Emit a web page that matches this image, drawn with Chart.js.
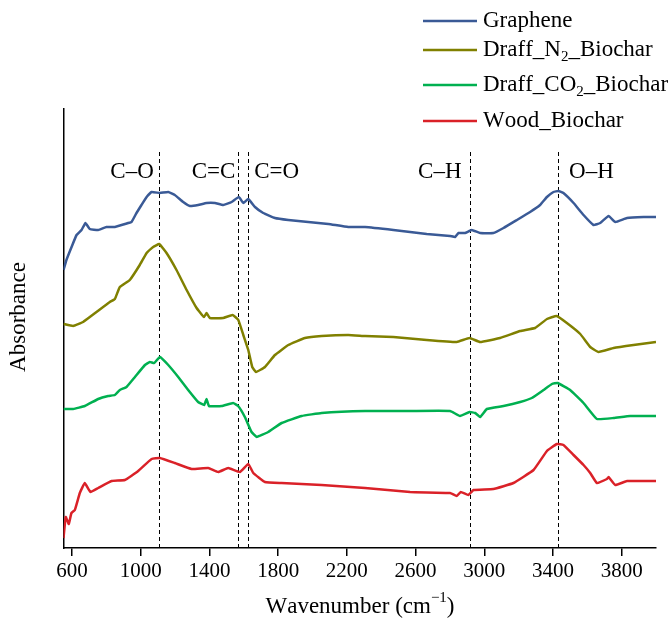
<!DOCTYPE html>
<html>
<head>
<meta charset="utf-8">
<script src="https://cdn.jsdelivr.net/npm/chart.js@4/dist/chart.umd.min.js"></script>
<style>
  html, body { margin: 0; padding: 0; background: #fff; }
</style>
</head>
<body>
<canvas id="ftir" width="670" height="627"></canvas>
<script>
// FTIR spectra, absorbance in arbitrary units (curves are stacked)
const xTicks = [600, 1000, 1400, 1800, 2200, 2600, 3000, 3400, 3800];

const grapheneWn = [550, 567, 597, 626, 655, 678, 703, 752, 800, 849, 907, 946, 975, 1004, 1034, 1063, 1111, 1160, 1198, 1247, 1286, 1334, 1383, 1432, 1480, 1529, 1571, 1597, 1626, 1665, 1713, 1781, 1859, 1975, 2092, 2208, 2306, 2471, 2665, 2801, 2830, 2850, 2888, 2927, 2976, 3053, 3112, 3190, 3267, 3325, 3365, 3403, 3432, 3461, 3520, 3578, 3636, 3675, 3724, 3763, 3831, 3928, 4000];
const grapheneAbs = [2.78, 2.88, 3.01, 3.13, 3.18, 3.25, 3.19, 3.18, 3.21, 3.21, 3.24, 3.26, 3.35, 3.43, 3.51, 3.56, 3.55, 3.56, 3.53, 3.46, 3.42, 3.43, 3.45, 3.45, 3.43, 3.46, 3.51, 3.45, 3.49, 3.41, 3.35, 3.30, 3.28, 3.26, 3.24, 3.21, 3.21, 3.18, 3.14, 3.12, 3.11, 3.15, 3.15, 3.18, 3.15, 3.15, 3.20, 3.28, 3.36, 3.43, 3.51, 3.56, 3.57, 3.55, 3.45, 3.33, 3.23, 3.25, 3.32, 3.26, 3.30, 3.31, 3.31];

const draffN2Wn = [550, 606, 664, 742, 820, 849, 878, 936, 994, 1034, 1072, 1107, 1150, 1208, 1267, 1325, 1368, 1383, 1402, 1480, 1535, 1568, 1597, 1626, 1649, 1671, 1723, 1781, 1859, 1956, 2053, 2208, 2306, 2471, 2665, 2840, 2914, 2976, 3092, 3209, 3296, 3365, 3421, 3481, 3559, 3617, 3665, 3753, 3869, 4000];
const draffN2Abs = [2.24, 2.22, 2.26, 2.36, 2.46, 2.49, 2.61, 2.68, 2.83, 2.95, 3.01, 3.04, 2.95, 2.78, 2.58, 2.40, 2.31, 2.35, 2.30, 2.30, 2.33, 2.28, 2.13, 1.98, 1.81, 1.76, 1.81, 1.93, 2.03, 2.10, 2.12, 2.13, 2.12, 2.11, 2.08, 2.06, 2.10, 2.06, 2.10, 2.17, 2.20, 2.29, 2.32, 2.25, 2.14, 2.01, 1.96, 2.00, 2.03, 2.06];

const draffCO2Wn = [550, 606, 674, 752, 810, 849, 878, 917, 966, 1024, 1053, 1078, 1111, 1160, 1218, 1276, 1334, 1369, 1383, 1397, 1471, 1538, 1567, 1606, 1645, 1675, 1742, 1820, 1937, 2053, 2306, 2568, 2801, 2859, 2914, 2947, 2976, 3015, 3112, 3209, 3277, 3345, 3394, 3427, 3500, 3578, 3656, 3753, 3850, 4000];
const draffCO2Abs = [1.39, 1.39, 1.42, 1.49, 1.52, 1.53, 1.58, 1.61, 1.71, 1.83, 1.86, 1.85, 1.91, 1.83, 1.71, 1.58, 1.46, 1.43, 1.49, 1.42, 1.42, 1.45, 1.42, 1.31, 1.16, 1.11, 1.16, 1.25, 1.32, 1.35, 1.37, 1.37, 1.37, 1.32, 1.36, 1.35, 1.31, 1.39, 1.42, 1.46, 1.50, 1.58, 1.64, 1.65, 1.58, 1.45, 1.29, 1.30, 1.32, 1.32];

const woodWn = [550, 563, 581, 596, 616, 645, 674, 707, 752, 830, 907, 985, 1063, 1111, 1198, 1296, 1393, 1451, 1509, 1577, 1626, 1655, 1723, 1820, 2053, 2306, 2568, 2801, 2840, 2863, 2908, 2937, 3053, 3170, 3287, 3365, 3423, 3461, 3520, 3578, 3617, 3656, 3714, 3724, 3763, 3831, 4000];
const woodAbs = [0.10, 0.31, 0.24, 0.35, 0.38, 0.55, 0.65, 0.56, 0.60, 0.67, 0.68, 0.77, 0.89, 0.90, 0.85, 0.79, 0.80, 0.76, 0.80, 0.76, 0.84, 0.75, 0.66, 0.65, 0.63, 0.60, 0.56, 0.55, 0.52, 0.56, 0.53, 0.58, 0.59, 0.65, 0.78, 0.97, 1.04, 1.03, 0.93, 0.83, 0.75, 0.65, 0.69, 0.71, 0.63, 0.67, 0.67];

// band markers (dashed lines) and their labels
const bandWn = [1105, 1565, 1625, 2915, 3430];
const bandLabels = ['C\u2013O', 'C=C', 'C=O', 'C\u2013H', 'O\u2013H'];
const bandLabelWn = [949, 1424, 1791, 2741, 3624];

const serif = '"Liberation Serif", "Times New Roman", serif';

function toPoints(xs, ys) {
    return xs.map((x, i) => ({ x: x, y: ys[i] }));
}

// draws text where '₂' becomes a subscript 2 and '⁻¹' a superscript
function drawRichText(ctx, text, x, y, size, align) {
    const small = Math.round(size * 0.65);
    const parts = [];
    for (const ch of text) {
        if (ch === '\u2082') parts.push({ t: '2', shift: size * 0.3, s: small });
        else if (ch === '\u207B') parts.push({ t: '\u2212', shift: -size * 0.38, s: small });
        else if (ch === '\u00B9') parts.push({ t: '1', shift: -size * 0.38, s: small });
        else parts.push({ t: ch, shift: 0, s: size });
    }
    let total = 0;
    parts.forEach(p => {
        ctx.font = p.s + 'px ' + serif;
        p.w = ctx.measureText(p.t).width;
        total += p.w;
    });
    let cx = align === 'center' ? x - total / 2 : x;
    ctx.textAlign = 'left';
    ctx.textBaseline = 'middle';
    parts.forEach(p => {
        ctx.font = p.s + 'px ' + serif;
        ctx.fillText(p.t, cx, y + p.shift);
        cx += p.w;
    });
}

const decorPlugin = {
    id: 'decor',
    beforeDatasetsDraw(chart) {
        const { ctx, scales: { x, y } } = chart;
        ctx.save();
        ctx.strokeStyle = '#000';
        ctx.lineWidth = 1;
        ctx.setLineDash([4, 3]);
        bandWn.forEach(v => {
            const px = Math.round(x.getPixelForValue(v)) + 0.5;
            ctx.beginPath();
            ctx.moveTo(px, y.getPixelForValue(3.96));
            ctx.lineTo(px, chart.chartArea.bottom);
            ctx.stroke();
        });
        ctx.setLineDash([]);
        ctx.fillStyle = '#000';
        bandLabels.forEach((lab, i) => {
            drawRichText(ctx, lab, x.getPixelForValue(bandLabelWn[i]), y.getPixelForValue(3.76), 23, 'center');
        });
        ctx.restore();
    },
    afterDraw(chart) {
        const { ctx } = chart;
        ctx.save();
        // legend
        const rowY = [21, 50, 85, 121];
        chart.data.datasets.forEach((ds, i) => {
            ctx.strokeStyle = ds.borderColor;
            ctx.lineWidth = 2.5;
            ctx.beginPath();
            ctx.moveTo(423, rowY[i]);
            ctx.lineTo(477, rowY[i]);
            ctx.stroke();
            ctx.fillStyle = '#000';
            drawRichText(ctx, ds.label, 483, rowY[i], 23, 'left');
        });
        // axis titles
        drawRichText(ctx, 'Wavenumber (cm\u207B\u00B9)', 360, 607, 23, 'center');
        ctx.translate(19, 317);
        ctx.rotate(-Math.PI / 2);
        drawRichText(ctx, 'Absorbance', 0, 0, 23, 'center');
        ctx.restore();
    }
};

new Chart(document.getElementById('ftir'), {
    type: 'line',
    data: {
        datasets: [
            { label: 'Graphene', data: toPoints(grapheneWn, grapheneAbs), borderColor: '#3A5A96' },
            { label: 'Draff_N\u2082_Biochar', data: toPoints(draffN2Wn, draffN2Abs), borderColor: '#808000' },
            { label: 'Draff_CO\u2082_Biochar', data: toPoints(draffCO2Wn, draffCO2Abs), borderColor: '#00B050' },
            { label: 'Wood_Biochar', data: toPoints(woodWn, woodAbs), borderColor: '#DA2128' },
        ]
    },
    options: {
        responsive: false,
        animation: false,
        datasets: {
            line: { borderWidth: 2.5, pointRadius: 0, tension: 0.1, fill: false }
        },
        layout: { padding: { top: 109, right: 14, left: 0, bottom: 0 } },
        plugins: {
            legend: { display: false },
            tooltip: { enabled: false }
        },
        scales: {
            x: {
                type: 'linear',
                min: 550,
                max: 4000,
                afterBuildTicks: s => { s.ticks = xTicks.map(v => ({ value: v })); },
                afterFit: s => { s.height = 79; },
                ticks: {
                    color: '#000',
                    font: { family: serif, size: 21 },
                    padding: 3,
                    maxRotation: 0,
                    autoSkip: false,
                    callback: v => String(v)
                },
                grid: { display: true, drawOnChartArea: false, drawTicks: true, tickLength: 8, color: '#000', lineWidth: 1.5 },
                border: { display: true, color: '#000', width: 1.5 }
            },
            y: {
                min: 0,
                max: 4.39,
                afterFit: s => { s.width = 63.5; },
                ticks: { display: false },
                grid: { display: false },
                border: { display: true, color: '#000', width: 1.5 }
            }
        }
    },
    plugins: [decorPlugin]
});
</script>
</body>
</html>
